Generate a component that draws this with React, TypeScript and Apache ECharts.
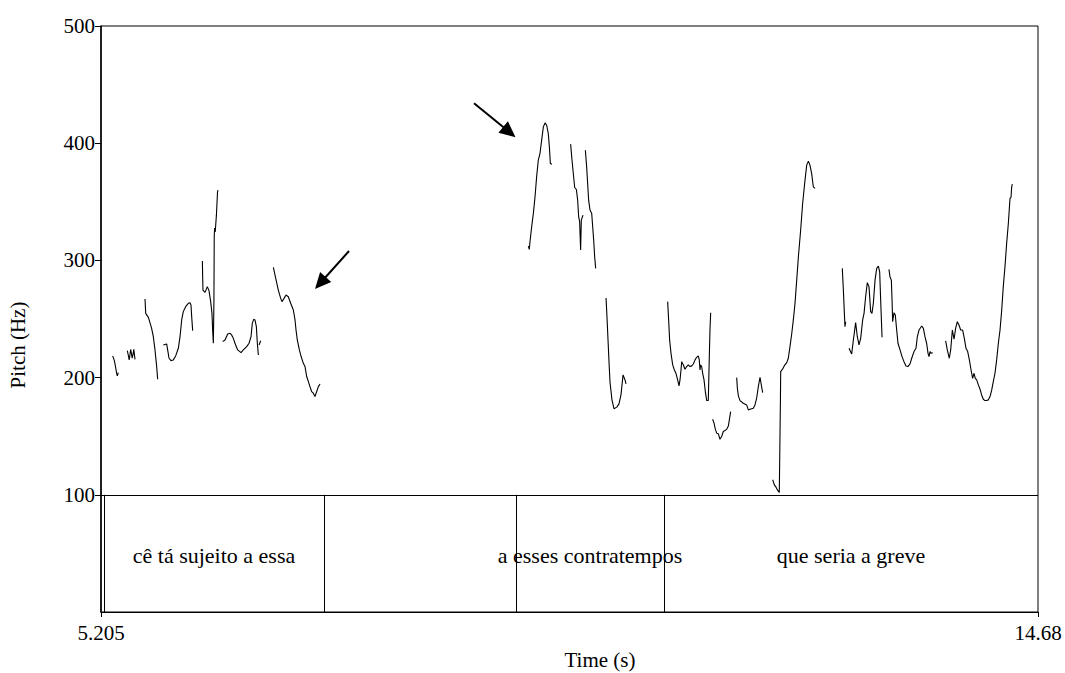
import React, { useEffect, useRef } from 'react';
import * as echarts from 'echarts';

// ---- axes ----
const xMin = 5.205;
const xMax = 14.68;
const xTickValues = [5.205, 14.68];
const xTickLabels = ['5.205', '14.68'];
const yMin = 0;
const yMax = 500;
const yTickValues = [100, 200, 300, 400, 500];

// ---- pitch contour segments: [time (s), pitch (Hz)] ----
const segA = [[5.323, 218.5], [5.340, 214.5], [5.353, 208.8], [5.363, 203.7], [5.370, 201.4], [5.380, 204.3]];
const segB = [[5.471, 223.0], [5.480, 219.5], [5.490, 215.1], [5.497, 219.0], [5.505, 224.0], [5.512, 221.0], [5.520, 216.6], [5.528, 219.5], [5.537, 224.1], [5.543, 219.5], [5.549, 215.6]];
const segC = [[5.650, 267.1], [5.657, 254.8], [5.684, 251.4], [5.700, 246.9], [5.717, 242.0], [5.734, 234.9], [5.751, 223.6], [5.768, 209.4], [5.778, 198.6]];
const segD = [[5.835, 227.8], [5.869, 228.7], [5.879, 223.6], [5.893, 216.5], [5.913, 214.5], [5.936, 215.1], [5.960, 218.5], [5.987, 225.0], [6.004, 234.9], [6.021, 249.2], [6.037, 256.3], [6.061, 260.5], [6.088, 263.4], [6.105, 263.9], [6.115, 262.0], [6.122, 252.0], [6.132, 240.1]];
const segE = [[6.230, 299.4], [6.233, 286.1], [6.236, 274.7], [6.257, 272.7], [6.280, 277.6], [6.297, 274.2], [6.314, 264.8], [6.327, 254.8], [6.334, 240.6], [6.341, 229.3], [6.344, 229.5], [6.347, 266.0], [6.350, 320.7], [6.354, 327.6], [6.360, 324.2], [6.372, 338.6], [6.383, 358.0], [6.388, 360.0]];
const segF = [[6.435, 230.7], [6.459, 232.1], [6.486, 237.2], [6.510, 237.8], [6.526, 236.4], [6.543, 233.5], [6.560, 229.3], [6.587, 223.6], [6.621, 221.3], [6.644, 223.6], [6.678, 226.4], [6.702, 229.3], [6.722, 234.9], [6.735, 246.3], [6.749, 249.7], [6.762, 249.2], [6.776, 243.5], [6.786, 229.3], [6.796, 219.3]];
const segF2 = [[6.803, 227.8], [6.820, 231.5]];
const segG = [[6.948, 294.0], [6.975, 283.3], [6.998, 274.7], [7.022, 267.6], [7.035, 264.8], [7.056, 267.6], [7.076, 270.5], [7.099, 269.0], [7.123, 263.4], [7.150, 257.7], [7.167, 249.2], [7.177, 240.6], [7.190, 232.1], [7.211, 223.6], [7.224, 219.3], [7.251, 212.2], [7.268, 209.4], [7.285, 200.9], [7.302, 196.6], [7.318, 192.3], [7.335, 188.1], [7.352, 186.7], [7.369, 183.8], [7.386, 188.1], [7.403, 192.3], [7.420, 194.6]];
const segH = [[9.526, 312.2], [9.536, 309.4], [9.543, 315.9], [9.560, 328.7], [9.577, 340.1], [9.594, 354.3], [9.610, 371.3], [9.627, 385.5], [9.644, 391.2], [9.661, 402.6], [9.678, 413.9], [9.695, 417.3], [9.712, 415.3], [9.728, 408.2], [9.739, 396.9], [9.749, 382.7], [9.766, 382.1]];
const segI = [[9.954, 399.2], [9.968, 385.5], [9.981, 374.2], [9.995, 362.2], [10.012, 360.5], [10.025, 351.4], [10.035, 337.2], [10.045, 333.0], [10.055, 308.8], [10.062, 334.4], [10.079, 338.6]];
const segJ = [[10.103, 394.0], [10.116, 379.8], [10.126, 365.6], [10.136, 351.4], [10.150, 342.9], [10.167, 340.1], [10.177, 328.7], [10.187, 317.3], [10.197, 303.1], [10.207, 293.2]];
const segK = [[10.312, 267.9], [10.322, 250.9], [10.332, 232.1], [10.342, 213.4], [10.352, 196.3], [10.372, 181.0], [10.393, 173.3], [10.423, 175.0], [10.443, 177.6], [10.463, 185.2], [10.484, 202.3], [10.504, 198.0], [10.514, 194.6]];
const segL = [[10.935, 264.8], [10.945, 249.2], [10.955, 232.1], [10.969, 220.7], [10.986, 210.8], [11.003, 206.5], [11.019, 203.7], [11.036, 198.0], [11.050, 192.9], [11.060, 198.0], [11.070, 206.5], [11.077, 213.6], [11.094, 210.8], [11.110, 207.1], [11.127, 209.4], [11.144, 210.8], [11.161, 209.4], [11.178, 210.0], [11.195, 211.6], [11.212, 215.1], [11.228, 217.3], [11.245, 218.5], [11.255, 215.1], [11.262, 206.5], [11.269, 210.8], [11.279, 209.4], [11.289, 203.7], [11.303, 198.0], [11.316, 188.1], [11.330, 180.4], [11.346, 180.4], [11.357, 220.7], [11.363, 240.6], [11.370, 255.4]];
const segM = [[11.390, 164.5], [11.404, 161.1], [11.417, 156.0], [11.431, 152.6], [11.448, 152.0], [11.464, 147.4], [11.481, 149.7], [11.498, 154.0], [11.515, 154.8], [11.532, 156.0], [11.549, 158.8], [11.559, 163.9], [11.572, 171.0]];
const segN = [[11.633, 200.0], [11.640, 190.9], [11.650, 184.4], [11.667, 180.4], [11.700, 178.1], [11.734, 176.7], [11.751, 172.4], [11.768, 173.0], [11.801, 173.9], [11.818, 176.7], [11.835, 182.4], [11.852, 192.3], [11.869, 200.3], [11.882, 193.7], [11.896, 187.2]];
const segO = [[11.997, 112.8], [12.014, 108.5], [12.031, 106.5], [12.048, 103.7], [12.064, 102.0], [12.071, 102.0], [12.075, 178.1], [12.078, 205.1], [12.098, 207.4], [12.115, 210.2], [12.139, 212.8], [12.155, 216.5], [12.172, 226.4], [12.189, 237.0], [12.206, 249.2], [12.223, 263.4], [12.240, 283.2], [12.257, 303.1], [12.280, 325.9], [12.300, 348.6], [12.324, 368.5], [12.341, 381.3], [12.358, 384.7], [12.374, 381.3], [12.391, 374.2], [12.408, 362.8], [12.425, 361.4]];
const segP = [[12.701, 293.2], [12.712, 274.7], [12.722, 254.8], [12.728, 243.5], [12.735, 247.7]];
const segQ = [[12.769, 225.0], [12.796, 220.2], [12.813, 232.1], [12.836, 246.9], [12.853, 234.9], [12.870, 227.9], [12.887, 233.5], [12.907, 249.2], [12.921, 254.8], [12.937, 269.0], [12.954, 281.0], [12.971, 277.6], [12.988, 256.3], [13.001, 254.8], [13.015, 263.4], [13.032, 283.2], [13.049, 293.2], [13.066, 295.2], [13.079, 290.3], [13.089, 266.2], [13.103, 234.4]];
const segR = [[13.173, 292.3], [13.183, 286.1], [13.197, 283.2], [13.204, 266.2], [13.210, 247.7], [13.224, 255.4], [13.237, 253.4], [13.251, 240.6], [13.264, 229.3], [13.285, 223.6], [13.305, 217.9], [13.325, 213.6], [13.345, 209.9], [13.365, 209.4], [13.386, 211.7], [13.403, 216.5], [13.426, 222.2], [13.446, 225.0], [13.460, 234.9], [13.477, 240.6], [13.504, 244.0], [13.521, 242.0], [13.537, 234.9], [13.554, 229.3], [13.568, 220.7], [13.578, 217.9], [13.588, 222.2], [13.601, 220.7], [13.615, 221.3]];
const segS = [[13.746, 231.3], [13.763, 223.6], [13.783, 216.5], [13.797, 223.6], [13.814, 240.6], [13.831, 232.7], [13.847, 242.0], [13.864, 247.7], [13.881, 244.9], [13.898, 240.6], [13.918, 240.6], [13.935, 233.5], [13.952, 225.0], [13.969, 222.2], [13.986, 215.1], [14.003, 206.5], [14.019, 199.4], [14.033, 203.7], [14.046, 199.4], [14.060, 198.0], [14.077, 193.8], [14.094, 190.1], [14.110, 185.2], [14.127, 181.5], [14.144, 180.4], [14.161, 180.4], [14.178, 181.0], [14.195, 183.8], [14.212, 189.5], [14.228, 196.6], [14.245, 203.7], [14.262, 215.1], [14.279, 229.3], [14.296, 240.6], [14.313, 257.7], [14.329, 277.6], [14.346, 294.6], [14.363, 314.5], [14.380, 331.5], [14.397, 352.9], [14.407, 353.7], [14.414, 362.8], [14.420, 365.1]];

const pitchSegments = [segA, segB, segC, segD, segE, segF, segF2, segG, segH, segI, segJ, segK, segL, segM, segN, segO, segP, segQ, segR, segS];

// ---- text tier ----
const tierTopHz = 100;
const tierBoundaries = [5.235, 7.460, 9.402, 10.898];
const tierStarts = [5.235, 9.402, 10.898];
const tierEnds = [7.460, 10.898, 14.68];
const tierTexts = ['cê tá sujeito a essa', 'a esses contratempos', 'que seria a greve'];
const tierTextHz = 48;

// ---- annotation arrows: tail -> head ----
const arrowTails = [[7.713, 308.0], [8.977, 434.1]];
const arrowHeads = [[7.423, 280.7], [9.334, 409.5]];

const FONT = '"Liberation Serif", "Times New Roman", serif';

export default function App() {
  const ref = useRef<HTMLDivElement>(null);

  useEffect(() => {
    if (!ref.current) return;
    const chart = echarts.init(ref.current, null, { renderer: 'svg' });

    const lineSeries = pitchSegments.map((seg) => ({
      type: 'line',
      data: seg,
      symbol: 'none',
      silent: true,
      lineStyle: { color: '#000', width: 1.1 },
      z: 3,
    }));

    const option: any = {
      animation: false,
      backgroundColor: '#fff',
      textStyle: { fontFamily: FONT, color: '#000' },
      grid: {
        left: 101,
        right: 27,
        top: 26,
        bottom: 61,
        show: true,
        borderColor: '#000',
        borderWidth: 1,
        backgroundColor: 'transparent',
      },
      xAxis: {
        type: 'value',
        min: xMin,
        max: xMax,
        splitLine: { show: false },
        axisLine: { show: true, lineStyle: { color: '#000', width: 1 } },
        axisTick: { show: true, customValues: xTickValues, length: 5, lineStyle: { color: '#000' } },
        axisLabel: {
          customValues: xTickValues,
          formatter: (v: number) => {
            const i = xTickValues.findIndex((t) => Math.abs(t - v) < 1e-6);
            return i >= 0 ? xTickLabels[i] : '';
          },
          color: '#000',
          fontFamily: FONT,
          fontSize: 21,
          margin: 10,
        },
      },
      yAxis: {
        type: 'value',
        min: yMin,
        max: yMax,
        splitLine: { show: false },
        axisLine: { show: true, lineStyle: { color: '#000', width: 1.5 } },
        axisTick: { show: true, customValues: yTickValues, length: 6, lineStyle: { color: '#000' } },
        axisLabel: {
          customValues: yTickValues,
          formatter: (v: number) => String(v),
          color: '#000',
          fontFamily: FONT,
          fontSize: 21,
          margin: 6,
        },
      },
      graphic: [
        {
          type: 'text',
          x: 18,
          y: 345,
          rotation: Math.PI / 2,
          style: { text: 'Pitch (Hz)', fill: '#000', font: `21px ${FONT}`, align: 'center', verticalAlign: 'middle' },
        },
        {
          type: 'text',
          x: 600,
          y: 660,
          style: { text: 'Time (s)', fill: '#000', font: `21px ${FONT}`, align: 'center', verticalAlign: 'middle' },
        },
      ],
      series: [
        ...lineSeries,
        {
          type: 'custom',
          silent: true,
          data: tierTexts.map((t, i) => [(tierStarts[i] + tierEnds[i]) / 2, tierTextHz, i]),
          renderItem: (params: any, api: any) => {
            const p = api.coord([api.value(0), api.value(1)]);
            const idx = api.value(2);
            return {
              type: 'text',
              x: p[0],
              y: p[1],
              style: {
                text: tierTexts[idx],
                fill: '#000',
                font: `22px ${FONT}`,
                align: 'center',
                verticalAlign: 'middle',
              },
            };
          },
          markLine: {
            silent: true,
            symbol: 'none',
            animation: false,
            label: { show: false },
            lineStyle: { color: '#000', width: 1, type: 'solid' },
            emphasis: { disabled: true },
            data: [
              { yAxis: tierTopHz },
              ...tierBoundaries.map((b) => [{ coord: [b, yMin] }, { coord: [b, tierTopHz] }]),
            ],
          },
        },
        {
          type: 'scatter',
          silent: true,
          symbolSize: 0,
          data: arrowHeads,
          markLine: {
            silent: true,
            animation: false,
            symbol: ['none', 'triangle'],
            symbolSize: [15, 16],
            label: { show: false },
            itemStyle: { color: '#000' },
            lineStyle: { color: '#000', width: 2, type: 'solid' },
            emphasis: { disabled: true },
            data: arrowTails.map((t, i) => [{ coord: t }, { coord: arrowHeads[i] }]),
          },
        },
      ],
    };

    chart.setOption(option);
    return () => chart.dispose();
  }, []);

  return (
    <div
      ref={ref}
      style={{ position: 'absolute', left: 0, top: 0, width: 1065, height: 673, background: '#fff' }}
    />
  );
}
